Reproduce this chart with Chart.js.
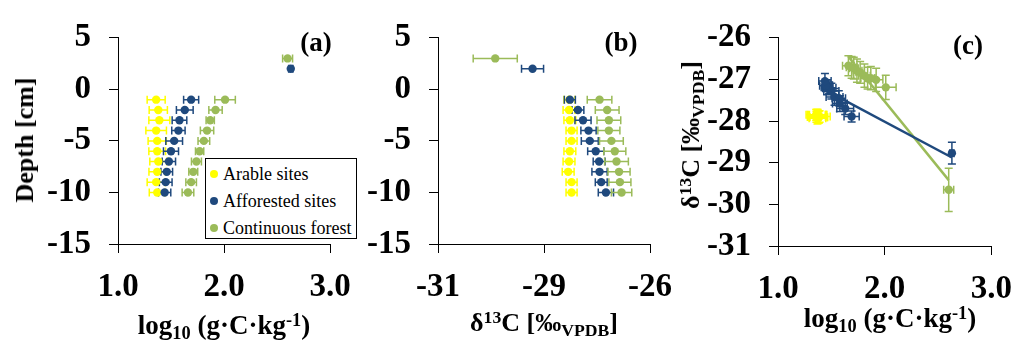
<!DOCTYPE html>
<html>
<head>
<meta charset="utf-8">
<script src="https://cdn.jsdelivr.net/npm/chart.js@4.4.1/dist/chart.umd.min.js"></script>
<style>
  body { margin: 0; background: #fff; }
  #wrap { position: relative; width: 1027px; height: 345px; overflow: hidden; font-family: "Liberation Serif", "Times New Roman", serif; }
  canvas { position: absolute; left: 0; top: 0; }
  .t { position: absolute; font-weight: bold; white-space: nowrap; line-height: 1; color: #000; }
  .rot { transform: translate(-50%, -50%) rotate(-90deg); }
  .hx { width: 300px; text-align: center; }
  .t sub, .t sup { font-size: 0.68em; line-height: 0; position: relative; vertical-align: baseline; }
  .t sub { top: 0.28em; }
  .t sup { top: -0.45em; }
  .lab { font-size: 27px; transform: translate(-50%, -50%); }
  #legend { position: absolute; left: 205px; top: 158px; width: 150px; height: 79px; border: 1.5px solid #000; background: #fff; font-size: 18px; }
  #legend div { position: absolute; left: 17px; line-height: 1; }
  #legend i { position: absolute; left: -13px; top: 5px; width: 8px; height: 8px; border-radius: 50%; }
</style>
</head>
<body>
<div id="wrap">
  <canvas id="chartA" width="1027" height="345"></canvas>
  <canvas id="chartB" width="1027" height="345"></canvas>
  <canvas id="chartC" width="1027" height="345"></canvas>

  <div class="t rot" style="left:25px;top:140px;font-size:26px;">Depth [cm]</div>
  <div class="t hx" style="left:74px;top:312px;font-size:27px;">log<sub>10</sub> (g·C·kg<sup>-1</sup>)</div>
  <div class="t hx" style="left:394px;top:310px;font-size:26px;">δ<sup>13</sup>C [‰<sub>VPDB</sub>]</div>
  <div class="t hx" style="left:740px;top:305px;font-size:27px;">log<sub>10</sub> (g·C·kg<sup>-1</sup>)</div>
  <div class="t rot" style="left:691px;top:135px;font-size:26px;">δ<sup>13</sup>C [‰<sub>VPDB</sub>]</div>

  <div class="t lab" style="left:316px;top:42px;">(a)</div>
  <div class="t lab" style="left:621px;top:42px;">(b)</div>
  <div class="t lab" style="left:968px;top:45px;">(c)</div>

  <div id="legend">
    <div style="top:6px;"><i style="background:#FFFF00"></i>Arable sites</div>
    <div style="top:33px;"><i style="background:#1F497D"></i>Afforested sites</div>
    <div style="top:60px;"><i style="background:#9BBB59"></i>Continuous forest</div>
  </div>
</div>

<script>
// ---- data ----
const seriesNames = ["Arable sites", "Afforested sites", "Continuous forest"];

const arableDepth = [-1, -2, -3, -4, -5, -6, -7, -8, -9, -10];
const afforDepth  = [2, -1, -2, -3, -4, -5, -6, -7, -8, -9, -10];
const forestDepth = [3, -1, -2, -3, -4, -5, -6, -7, -8, -9, -10];

// log10 (g C kg-1)
const arableC    = [1.36, 1.38, 1.39, 1.36, 1.37, 1.37, 1.38, 1.37, 1.36, 1.37];
const arableCErr = [0.085, 0.086, 0.099, 0.097, 0.086, 0.079, 0.08, 0.078, 0.085, 0.075];
const afforC     = [2.63, 1.69, 1.63, 1.58, 1.57, 1.53, 1.50, 1.48, 1.46, 1.45, 1.44];
const afforCErr  = [0.02, 0.071, 0.079, 0.069, 0.063, 0.079, 0.071, 0.063, 0.055, 0.06, 0.058];
const forestC    = [2.60, 2.01, 1.92, 1.87, 1.84, 1.81, 1.77, 1.74, 1.71, 1.69, 1.66];
const forestCErr = [0.047, 0.097, 0.063, 0.039, 0.063, 0.055, 0.039, 0.047, 0.042, 0.05, 0.055];

// d13C (permil VPDB)
const arableD13    = [-27.90, -27.91, -27.89, -27.85, -27.85, -27.89, -27.91, -27.93, -27.85, -27.85];
const arableD13Err = [0.13, 0.14, 0.14, 0.13, 0.13, 0.14, 0.14, 0.14, 0.13, 0.13];
const afforD13     = [-28.77, -27.89, -27.70, -27.58, -27.45, -27.42, -27.28, -27.20, -27.19, -27.15, -27.04];
const afforD13Err  = [0.26, 0.13, 0.14, 0.19, 0.18, 0.2, 0.19, 0.14, 0.18, 0.14, 0.18];
const forestD13    = [-29.65, -27.19, -27.01, -26.97, -26.97, -26.91, -26.83, -26.79, -26.73, -26.71, -26.67];
const forestD13Err = [0.52, 0.29, 0.28, 0.28, 0.26, 0.28, 0.26, 0.28, 0.26, 0.26, 0.24];

// axis ticks
const cTicks = [1, 2, 3];
const depthTicks = [-15, -10, -5, 0, 5];
const d13TicksB = [-31, -28.5, -26];
const d13TicksC = [-31, -30, -29, -28, -27, -26];

const colors = ["#FFFF00", "#1F497D", "#9BBB59"];

// ---- helpers ----
function pts(xs, ys) {
    return xs.map((x, i) => ({ x: x, y: ys[i] }));
}

// least squares trend line over the data range (like the spreadsheet trendline)
function fitLine(xs, ys) {
    const n = xs.length;
    const mx = xs.reduce((a, b) => a + b, 0) / n;
    const my = ys.reduce((a, b) => a + b, 0) / n;
    let sxy = 0, sxx = 0;
    for (let i = 0; i < n; i++) {
        sxy += (xs[i] - mx) * (ys[i] - my);
        sxx += (xs[i] - mx) * (xs[i] - mx);
    }
    const k = sxy / sxx;
    const x0 = Math.min(...xs), x1 = Math.max(...xs);
    return [{ x: x0, y: my + k * (x0 - mx) }, { x: x1, y: my + k * (x1 - mx) }];
}

// draws error bars (with caps) for datasets that carry errX / errY
const errorBars = {
    id: "errorBars",
    beforeDatasetsDraw(chart) {
        const ctx = chart.ctx;
        const xs = chart.scales.x, ys = chart.scales.y;
        const cap = 4;
        chart.data.datasets.forEach(ds => {
            if (!ds.errX && !ds.errY) return;
            ctx.save();
            ctx.strokeStyle = ds.borderColor;
            ctx.lineWidth = 1.5;
            ds.data.forEach((p, j) => {
                const px = xs.getPixelForValue(p.x);
                const py = ys.getPixelForValue(p.y);
                ctx.beginPath();
                if (ds.errX) {
                    const l = xs.getPixelForValue(p.x - ds.errX[j]);
                    const r = xs.getPixelForValue(p.x + ds.errX[j]);
                    ctx.moveTo(l, py); ctx.lineTo(r, py);
                    ctx.moveTo(l, py - cap); ctx.lineTo(l, py + cap);
                    ctx.moveTo(r, py - cap); ctx.lineTo(r, py + cap);
                }
                if (ds.errY) {
                    const t = ys.getPixelForValue(p.y + ds.errY[j]);
                    const b = ys.getPixelForValue(p.y - ds.errY[j]);
                    ctx.moveTo(px, t); ctx.lineTo(px, b);
                    ctx.moveTo(px - cap, t); ctx.lineTo(px + cap, t);
                    ctx.moveTo(px - cap, b); ctx.lineTo(px + cap, b);
                }
                ctx.stroke();
            });
            ctx.restore();
        });
    }
};

const tickFont = { family: "'Liberation Serif', 'Times New Roman', serif", size: 33, weight: "bold" };

function axis(min, max, values, fmt, fixed, isX) {
    return {
        type: "linear",
        min: min,
        max: max,
        afterBuildTicks: s => { s.ticks = values.map(v => ({ value: v })); },
        afterFit: s => { if (isX) s.height = fixed; else s.width = fixed; },
        grid: { display: true, drawOnChartArea: false, drawTicks: true, tickLength: 9, color: "#000", lineWidth: 1 },
        border: { display: true, color: "#000", width: 1 },
        ticks: { color: "#000", font: tickFont, padding: isX ? 15 : 18, callback: fmt, maxRotation: 0, autoSkip: false }
    };
}

function scatterSet(i, data, errX, errY) {
    return {
        label: seriesNames[i],
        data: data,
        errX: errX,
        errY: errY,
        backgroundColor: colors[i],
        borderColor: colors[i],
        pointRadius: 4.2,
        pointBorderWidth: 0,
        showLine: false,
        order: 3 - i
    };
}

function baseOptions(pad, scales) {
    return {
        responsive: false,
        animation: false,
        layout: { padding: pad },
        plugins: { legend: { display: false }, tooltip: { enabled: false } },
        scales: scales
    };
}

const fmt1 = v => v.toFixed(1);
const fmtInt = v => String(v);
const fmtRound = v => String(-Math.round(Math.abs(v)));

const trendSet = (i, data) => ({
    type: "line",
    data: data,
    borderColor: colors[i],
    borderWidth: 2.5,
    pointRadius: 0,
    fill: false,
    order: 0
});

function draw() {
    // ---- (a) carbon vs depth ----
    new Chart(document.getElementById("chartA"), {
        type: "scatter",
        data: {
            datasets: [
                scatterSet(0, pts(arableC, arableDepth), arableCErr, null),
                scatterSet(1, pts(afforC, afforDepth), afforCErr, null),
                scatterSet(2, pts(forestC, forestDepth), forestCErr, null)
            ]
        },
        options: baseOptions({ left: 18, right: 697, top: 34, bottom: 0 }, {
            x: axis(1, 3, cTicks, fmt1, 101, true),
            y: axis(-15, 5, depthTicks, fmtInt, 100, false)
        }),
        plugins: [errorBars]
    });

    // ---- (b) d13C vs depth ----
    new Chart(document.getElementById("chartB"), {
        type: "scatter",
        data: {
            datasets: [
                scatterSet(0, pts(arableD13, arableDepth), arableD13Err, null),
                scatterSet(1, pts(afforD13, afforDepth), afforD13Err, null),
                scatterSet(2, pts(forestD13, forestDepth), forestD13Err, null)
            ]
        },
        options: baseOptions({ left: 338, right: 377, top: 34, bottom: 0 }, {
            x: axis(-31, -26, d13TicksB, fmtRound, 101, true),
            y: axis(-15, 5, depthTicks, fmtInt, 100, false)
        }),
        plugins: [errorBars]
    });

    // ---- (c) d13C vs carbon with trend lines ----
    new Chart(document.getElementById("chartC"), {
        type: "scatter",
        data: {
            datasets: [
                scatterSet(0, pts(arableC, arableD13), arableCErr, arableD13Err),
                scatterSet(1, pts(afforC, afforD13), afforCErr, afforD13Err),
                scatterSet(2, pts(forestC, forestD13), forestCErr, forestD13Err),
                trendSet(1, fitLine(afforC, afforD13)),
                trendSet(2, fitLine(forestC, forestD13))
            ]
        },
        options: baseOptions({ left: 678, right: 24, top: 21, bottom: 0 }, {
            x: axis(1, 3, cTicks, fmt1, 99, true),
            y: axis(-31, -26, d13TicksC, fmtInt, 100, false)
        }),
        plugins: [errorBars]
    });
}

// make sure the serif face is ready before the canvases draw text
document.fonts.load("bold 33px 'Liberation Serif'").then(draw, draw);
</script>
</body>
</html>
